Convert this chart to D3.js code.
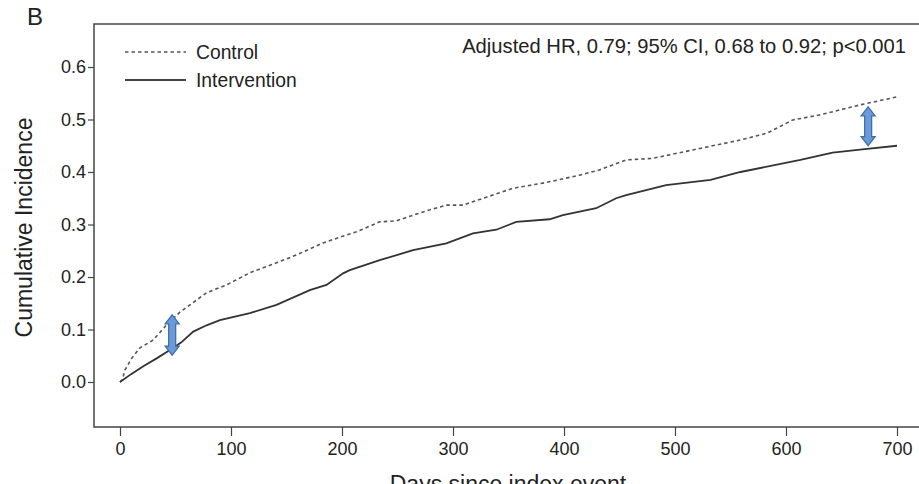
<!DOCTYPE html>
<html>
<head>
<meta charset="utf-8">
<script src="https://cdn.jsdelivr.net/npm/d3@7"></script>
<style>
  body { margin: 0; background: #fff; }
  svg { display: block; overflow: hidden; }
  text { font-family: "Liberation Sans", Arial, sans-serif; fill: #222; }
  .tick text { font-size: 18px; }
</style>
</head>
<body>
<svg width="919" height="484"></svg>
<script>
const controlDays = [0, 2, 4.5, 10.5, 18, 30, 42, 54, 78, 96, 117, 141, 159, 183, 204, 213, 234, 249, 273, 294, 309, 330, 354, 384, 414, 432, 456, 480, 516, 559, 583, 606, 631, 667, 700];
const controlInc  = [0, 0.004, 0.023, 0.045, 0.065, 0.08, 0.109, 0.133, 0.17, 0.185, 0.208, 0.227, 0.242, 0.265, 0.28, 0.286, 0.305, 0.307, 0.324, 0.337, 0.337, 0.352, 0.369, 0.38, 0.394, 0.404, 0.423, 0.426, 0.442, 0.461, 0.474, 0.499, 0.509, 0.528, 0.543];

const interventionDays = [0, 10, 21, 33, 45, 55, 66, 78, 90, 117, 141, 171, 186, 201, 207, 234, 264, 294, 318, 339, 357, 387, 399, 429, 447, 456, 492, 532, 559, 613, 642, 673, 700];
const interventionInc  = [0, 0.015, 0.03, 0.045, 0.061, 0.075, 0.096, 0.108, 0.118, 0.131, 0.147, 0.175, 0.185, 0.207, 0.213, 0.232, 0.251, 0.264, 0.283, 0.29, 0.305, 0.31, 0.318, 0.331, 0.35, 0.356, 0.375, 0.385, 0.4, 0.423, 0.437, 0.444, 0.45];

const xTicks = [0, 100, 200, 300, 400, 500, 600, 700];
const yTicks = [0, 0.1, 0.2, 0.3, 0.4, 0.5, 0.6];

// blue arrows marking the gap between curves
const arrowDays = [47, 674];
const arrowLo = [0.051, 0.45];
const arrowHi = [0.128, 0.524];

const seriesNames = ['Control', 'Intervention'];
const annotation = 'Adjusted HR, 0.79; 95% CI, 0.68 to 0.92; p<0.001';

const svg = d3.select('svg');

const box = {left: 94, right: 926, top: 24, bottom: 427};

const xScale = d3.scaleLinear().domain([0, 700]).range([120, 897]);
const yScale = d3.scaleLinear().domain([0, 0.6]).range([382, 67]);

// plot frame
svg.append('rect')
    .attr('x', box.left)
    .attr('y', box.top)
    .attr('width', box.right - box.left)
    .attr('height', box.bottom - box.top)
    .attr('fill', 'none')
    .attr('stroke', '#444')
    .attr('stroke-width', 1.5);

const xAxis = d3.axisBottom(xScale)
    .tickValues(xTicks)
    .tickSize(9)
    .tickPadding(6)
    .tickFormat(d3.format('d'));

const xAxisG = svg.append('g')
    .attr('transform', `translate(0, ${box.bottom})`)
    .call(xAxis);
xAxisG.select('.domain').remove();
xAxisG.selectAll('line').attr('stroke', '#444').attr('stroke-width', 1.2);

const yAxis = d3.axisLeft(yScale)
    .tickValues(yTicks)
    .tickSize(6)
    .tickPadding(2)
    .tickFormat(d3.format('.1f'));

const yAxisG = svg.append('g')
    .attr('transform', `translate(${box.left}, 0)`)
    .call(yAxis);
yAxisG.select('.domain').remove();
yAxisG.selectAll('line').attr('stroke', '#444').attr('stroke-width', 1.2);

// axis titles
svg.append('text')
    .attr('transform', `translate(32, ${(box.top + box.bottom) / 2 + 2}) rotate(-90)`)
    .attr('text-anchor', 'middle')
    .attr('font-size', 23)
    .text('Cumulative Incidence');

svg.append('text')
    .attr('x', 508)
    .attr('y', 492)
    .attr('text-anchor', 'middle')
    .attr('font-size', 23)
    .text('Days since index event');

svg.append('text')
    .attr('x', 27)
    .attr('y', 25)
    .attr('font-size', 24)
    .text('B');

// curves
const line = d3.line()
    .x(d => xScale(d[0]))
    .y(d => yScale(d[1]));

const controlData = controlDays.map((d, i) => [d, controlInc[i]]);
const interventionData = interventionDays.map((d, i) => [d, interventionInc[i]]);

svg.append('path')
    .attr('d', line(controlData))
    .attr('fill', 'none')
    .attr('stroke', '#555')
    .attr('stroke-width', 1.6)
    .attr('stroke-dasharray', '3.5,3');

svg.append('path')
    .attr('d', line(interventionData))
    .attr('fill', 'none')
    .attr('stroke', '#333')
    .attr('stroke-width', 1.8);

// legend
const legend = svg.append('g');
const legendY = [52, 80];
seriesNames.forEach((name, i) => {
    legend.append('line')
        .attr('x1', 125).attr('x2', 186)
        .attr('y1', legendY[i]).attr('y2', legendY[i])
        .attr('stroke', i === 0 ? '#555' : '#444')
        .attr('stroke-width', i === 0 ? 1.4 : 2)
        .attr('stroke-dasharray', i === 0 ? '3.5,3' : null);
    legend.append('text')
        .attr('x', 196)
        .attr('y', legendY[i] + 6.5)
        .attr('font-size', 19.3)
        .text(name);
});

svg.append('text')
    .attr('x', 906)
    .attr('y', 53)
    .attr('text-anchor', 'end')
    .attr('font-size', 20.2)
    .text(annotation);

// double-headed arrows
const arrowPath = (x, y1, y2) => {
    const sw = 3.5, hw = 7, hl = 9;
    return `M${x},${y1} L${x + hw},${y1 + hl} L${x + sw},${y1 + hl} L${x + sw},${y2 - hl}` +
        ` L${x + hw},${y2 - hl} L${x},${y2} L${x - hw},${y2 - hl} L${x - sw},${y2 - hl}` +
        ` L${x - sw},${y1 + hl} L${x - hw},${y1 + hl} Z`;
};

svg.selectAll('.arrow')
    .data(arrowDays)
    .join('path')
    .attr('class', 'arrow')
    .attr('d', (d, i) => arrowPath(xScale(d), yScale(arrowHi[i]), yScale(arrowLo[i])))
    .attr('fill', '#6b9ad6')
    .attr('stroke', '#3f6fae')
    .attr('stroke-width', 1.3);
</script>
</body>
</html>
